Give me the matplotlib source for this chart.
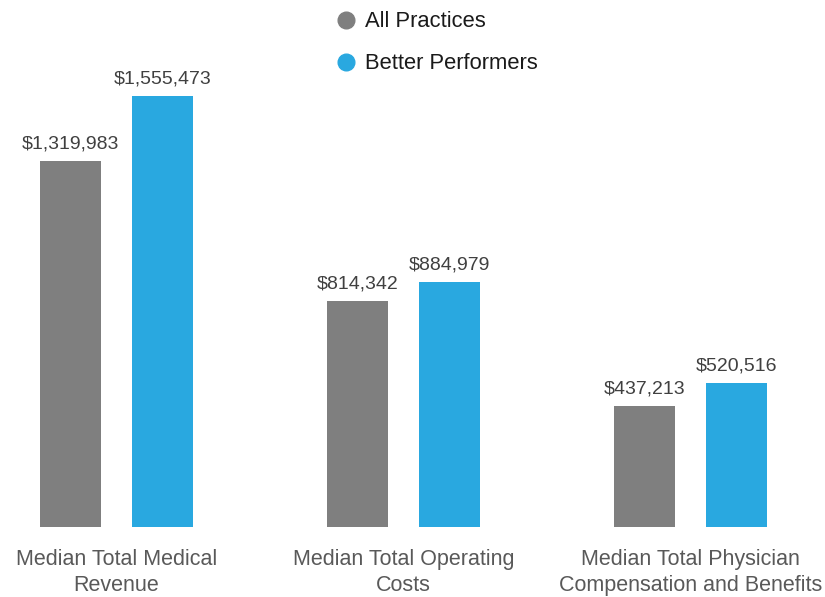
import matplotlib.pyplot as plt
import numpy as np
from matplotlib.lines import Line2D

plt.rcParams["font.family"] = ["Liberation Sans", "DejaVu Sans"]

categories = [
    "Median Total Medical\nRevenue",
    "Median Total Operating\nCosts",
    "Median Total Physician\nCompensation and Benefits",
]
series_names = ["All Practices", "Better Performers"]
all_practices = [1319983, 814342, 437213]
better_performers = [1555473, 884979, 520516]

colors = ["#7f7f7f", "#29a8e0"]
W, H = 825, 597

fig = plt.figure(figsize=(W / 100, H / 100), dpi=100)
# axes placed in pixels: baseline at y=527 from top, group spacing 287 px
ax = fig.add_axes([0, 70 / H, 1, 527 / H])
ax.set_xlim(-116.5 / 287, (W - 116.5) / 287)
ax.set_ylim(0, 527 / 2.772e-4)

x = np.arange(len(categories))
width = 61 / 287
offset = 46 / 287
for vals, dx, color in zip([all_practices, better_performers], [-offset, offset], colors):
    bars = ax.bar(x + dx, vals, width=width, color=color)
    for b, v in zip(bars, vals):
        ax.annotate(f"${v:,}", (b.get_x() + b.get_width() / 2, v),
                    xytext=(0, 6), textcoords="offset points",
                    ha="center", va="bottom", fontsize=14, color="#404040")

for xi, label in zip(x, categories):
    ax.annotate(label, (xi, 0), xytext=(0, -15.5), textcoords="offset points",
                ha="center", va="top", fontsize=15.5, color="#595959",
                linespacing=1.35)

ax.axis("off")

handles = [Line2D([], [], marker="o", linestyle="none", markersize=12,
                  markerfacecolor=c, markeredgecolor=c) for c in colors]
fig.legend(handles, series_names, loc="upper left",
           bbox_to_anchor=(320 / W, 1 + 4 / H), frameon=False,
           fontsize=15.8, labelcolor="#1a1a1a", handlelength=1.0,
           handletextpad=0.35, labelspacing=0.95, borderpad=0.2)

fig.savefig("out.png", dpi=100)
